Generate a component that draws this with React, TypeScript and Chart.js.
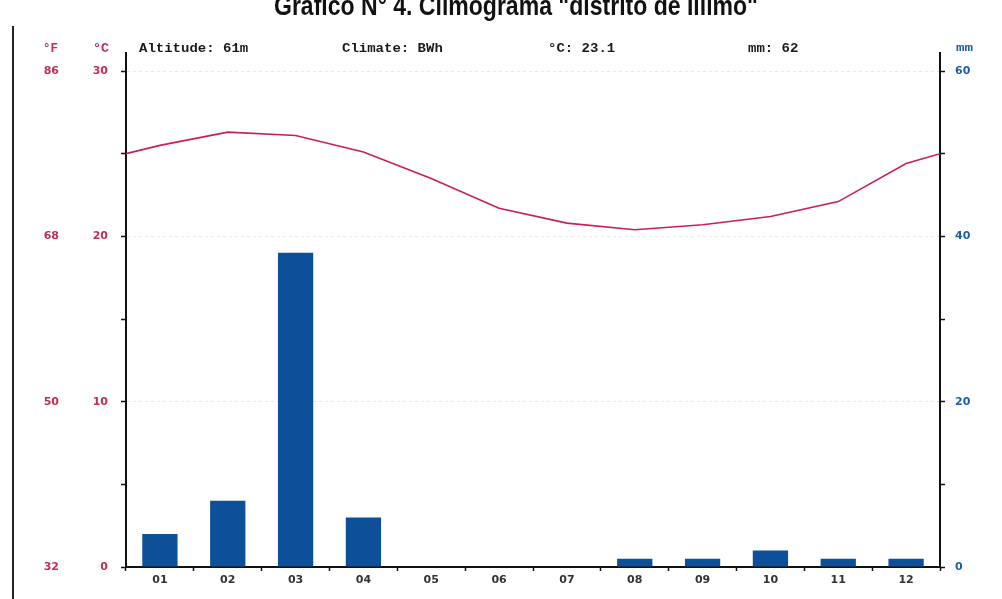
import React, { useEffect, useRef } from 'react';
import { Chart, registerables } from 'chart.js';

Chart.register(...registerables);

// ---- data ----
const months = ['01', '02', '03', '04', '05', '06', '07', '08', '09', '10', '11', '12'];
const temperatureC = [25.5, 26.3, 26.1, 25.1, 23.5, 21.7, 20.8, 20.4, 20.7, 21.2, 22.1, 24.4];
const precipitationMm = [4, 8, 38, 6, 0, 0, 0, 1, 1, 2, 1, 1];
// value where the temperature curve meets the two vertical axes
const yearEdgeTempC = 25.0;
const tempRangeC = [0, 30];
const tempRangeF = [32, 86];
const precipRangeMm = [0, 60];

const titleText = 'Gráfico N° 4. Climograma "distrito de Íllimo"';
const headerTexts = ['Altitude: 61m', 'Climate: BWh', '°C: 23.1', 'mm: 62'];
const unitF = '°F';
const unitC = '°C';
const unitMm = 'mm';

const RED = '#c22d55';
const BLUE = '#1d5ca6';
const BAR = '#0d4f99';
const LINE = '#cc1f52';
const AXIS = '#111111';

function drawStretched(
  ctx: CanvasRenderingContext2D,
  text: string,
  x: number,
  y: number,
  targetWidth: number,
  font: string,
  color: string
) {
  ctx.save();
  ctx.font = font;
  const w = ctx.measureText(text).width || 1;
  ctx.translate(x, y);
  ctx.scale(targetWidth / w, 1);
  ctx.fillStyle = color;
  ctx.textAlign = 'left';
  ctx.textBaseline = 'alphabetic';
  ctx.fillText(text, 0, 0);
  ctx.restore();
}

const decorations = {
  id: 'decorations',
  afterDraw(chart: any) {
    const { ctx, chartArea: a } = chart;
    ctx.save();
    // scanned page border line on the left
    ctx.strokeStyle = '#222';
    ctx.lineWidth = 2;
    ctx.beginPath();
    ctx.moveTo(13, 26);
    ctx.lineTo(13, 599);
    ctx.stroke();
    // axis lines extend above the top tick
    ctx.strokeStyle = AXIS;
    ctx.lineWidth = 2;
    [a.left, a.right].forEach((x: number) => {
      ctx.beginPath();
      ctx.moveTo(x, a.top - 19);
      ctx.lineTo(x, a.top);
      ctx.stroke();
    });
    // title (cut off at the top of the picture)
    drawStretched(ctx, titleText, 274, 15, 484, 'bold 28px "Liberation Sans"', '#111');
    // header line
    const mono = 'bold 12px "Liberation Mono"';
    const charW = 8.4;
    const headerX = [139, 342, 548, 748];
    headerTexts.forEach((t, i) => {
      drawStretched(ctx, t, headerX[i], 52, t.length * charW, mono, '#1a1a1a');
    });
    drawStretched(ctx, unitF, 43, 52, 15, mono, RED);
    drawStretched(ctx, unitC, 93, 52, 16, mono, RED);
    drawStretched(ctx, unitMm, 956, 51, 17, 'bold 11px "Liberation Mono"', BLUE);
    ctx.restore();
  },
};

const tickFont = { family: 'DejaVu Sans', weight: 'bold' as const, size: 11 };

export default function App() {
  const canvasRef = useRef<HTMLCanvasElement | null>(null);

  useEffect(() => {
    if (!canvasRef.current) return;
    const lineData = [
      { x: 0, y: yearEdgeTempC },
      ...temperatureC.map((t, i) => ({ x: i + 0.5, y: t })),
      { x: months.length, y: yearEdgeTempC },
    ];
    const chart = new Chart(canvasRef.current, {
      type: 'bar',
      data: {
        labels: months,
        datasets: [
          {
            type: 'line',
            label: 'Temperature',
            data: lineData as any,
            xAxisID: 'xl',
            yAxisID: 'y',
            borderColor: LINE,
            borderWidth: 1.6,
            pointRadius: 0,
            tension: 0,
            fill: false,
            order: 0,
          } as any,
          {
            type: 'bar',
            label: 'Precipitation',
            data: precipitationMm,
            xAxisID: 'x',
            yAxisID: 'y2',
            backgroundColor: BAR,
            borderWidth: 0,
            grouped: false,
            barPercentage: 0.52,
            categoryPercentage: 1,
            order: 1,
          },
        ],
      },
      options: {
        animation: false,
        responsive: true,
        maintainAspectRatio: false,
        layout: { padding: { top: 71, left: 0, right: 0, bottom: 0 } },
        plugins: {
          legend: { display: false },
          title: { display: false },
          tooltip: { enabled: false },
        },
        scales: {
          x: {
            type: 'category',
            offset: true,
            grid: {
              display: true,
              offset: true,
              drawOnChartArea: false,
              drawTicks: true,
              tickLength: 4,
              tickColor: AXIS,
              tickWidth: 1.5,
            },
            border: { display: true, color: AXIS, width: 2 },
            ticks: { font: tickFont, color: '#333', padding: 3, maxRotation: 0, autoSkip: false },
            afterFit: (s: any) => {
              s.height = 32;
            },
          },
          xl: {
            type: 'linear',
            min: 0,
            max: months.length,
            offset: false,
            grid: { offset: false },
            display: false,
          },
          yF: {
            position: 'left',
            weight: 1,
            min: tempRangeF[0],
            max: tempRangeF[1],
            ticks: { stepSize: 18, padding: 7, font: tickFont, color: RED },
            grid: { display: false, drawTicks: false },
            border: { display: false },
            afterFit: (s: any) => {
              s.width = 66;
            },
          },
          y: {
            position: 'left',
            weight: 0,
            min: tempRangeC[0],
            max: tempRangeC[1],
            ticks: {
              stepSize: 5,
              padding: 13,
              font: tickFont,
              color: RED,
              callback: (v: any) => (Number(v) % 10 === 0 ? String(v) : ''),
            },
            grid: {
              color: (c: any) =>
                c.tick && c.tick.value > 0 && c.tick.value % 10 === 0 ? 'rgba(0,0,0,0.09)' : 'rgba(0,0,0,0)',
              lineWidth: 1,
              tickColor: AXIS,
              tickLength: 5,
              tickWidth: 1.5,
            },
            border: { display: true, color: AXIS, width: 2, dash: [3, 3] },
            afterFit: (s: any) => {
              s.width = 60;
            },
          },
          y2: {
            position: 'right',
            min: precipRangeMm[0],
            max: precipRangeMm[1],
            ticks: {
              stepSize: 10,
              padding: 10,
              font: tickFont,
              color: BLUE,
              callback: (v: any) => (Number(v) % 20 === 0 ? String(v) : ''),
            },
            grid: { drawOnChartArea: false, tickColor: AXIS, tickLength: 5, tickWidth: 1.5 },
            border: { display: true, color: AXIS, width: 2 },
            afterFit: (s: any) => {
              s.width = 62;
            },
          },
        },
      } as any,
      plugins: [decorations],
    });
    return () => chart.destroy();
  }, []);

  return (
    <div style={{ position: 'absolute', left: 0, top: 0, width: 1002, height: 599, background: '#fff' }}>
      <canvas ref={canvasRef} />
    </div>
  );
}
